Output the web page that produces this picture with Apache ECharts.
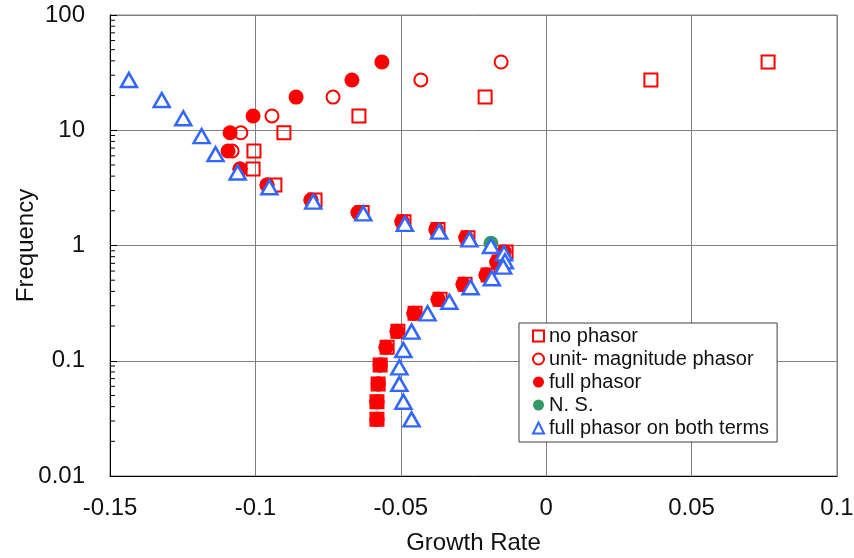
<!DOCTYPE html>
<html><head><meta charset="utf-8">
<script src="https://cdn.jsdelivr.net/npm/echarts@6/dist/echarts.min.js"></script>
<style>html,body{margin:0;padding:0;background:#fff}#c{width:854px;height:558px}</style>
</head><body><div id="c"></div>
<script>
// Shared frequencies for the red series
const redFreq = [39.1, 27.3, 19.4, 13.3, 9.5, 6.6, 4.6, 3.35, 2.48, 1.93, 1.61, 1.38, 1.17, 0.88, 0.72, 0.555, 0.46, 0.341, 0.258, 0.18, 0.131, 0.092, 0.063, 0.044, 0.031];
const noPhasorRate = [0.0763, 0.036, -0.021, -0.0644, -0.0902, -0.1005, -0.1008, -0.0933, -0.0795, -0.0633, -0.0489, -0.0372, -0.0269, -0.0138, -0.0162, -0.0200, -0.0279, -0.0365, -0.0451, -0.0510, -0.0547, -0.0571, -0.0578, -0.0582, -0.0582];
const unitMagRate = [-0.0155, -0.0431, -0.0733, -0.0943, -0.1050, -0.1080, -0.1053, -0.0960, -0.0809, -0.0647, -0.0496, -0.0379, -0.0276, -0.0145, -0.0170, -0.0207, -0.0286, -0.0372, -0.0455, -0.0513, -0.0551, -0.0571, -0.0578, -0.0582, -0.0582];
const fullPhasorRate = [-0.0565, -0.0668, -0.0860, -0.1008, -0.1087, -0.1094, -0.1053, -0.0960, -0.0809, -0.0647, -0.0496, -0.0379, -0.0276, -0.0145, -0.0170, -0.0207, -0.0286, -0.0372, -0.0455, -0.0513, -0.0551, -0.0571, -0.0578, -0.0582, -0.0582];
const nsRate = [-0.019];
const nsFreq = [1.045];
const bothRate = [-0.1435, -0.1322, -0.1248, -0.1185, -0.1137, -0.1061, -0.0952, -0.0801, -0.0629, -0.0486, -0.0368, -0.0264, -0.0190, -0.0145, -0.0142, -0.0148, -0.0187, -0.0260, -0.0333, -0.0408, -0.0463, -0.0491, -0.0505, -0.0505, -0.0491, -0.0463];
const bothFreq = [27.3, 18.3, 12.7, 8.9, 6.2, 4.3, 3.2, 2.4, 1.9, 1.54, 1.32, 1.13, 0.99, 0.855, 0.73, 0.655, 0.52, 0.434, 0.325, 0.258, 0.179, 0.124, 0.0877, 0.0629, 0.0441, 0.031];
const seriesNames = ['no phasor', 'unit- magnitude phasor', 'full phasor', 'N. S.', 'full phasor on both terms'];
const xLabel = 'Growth Rate';
const yLabel = 'Frequency';

const zip = (xs, ys) => xs.map((x, i) => [x, ys[i]]);
const FONT = 'Liberation Sans, Arial, sans-serif';
const RED = '#ff0000', BLUE = '#3366ff', GREEN = '#339966';

// minor log tick positions (2..9 per decade)
const minorTicks = [];
for (let k = -2; k <= 1; k++) for (let m = 2; m <= 9; m++) minorTicks.push([-0.15, m * Math.pow(10, k)]);

const chart = echarts.init(document.getElementById('c'), null, {renderer: 'canvas'});
chart.setOption({
  animation: false,
  backgroundColor: '#fff',
  textStyle: {fontFamily: FONT},
  grid: {left: 110, right: 17, top: 15, bottom: 82, show: true, borderColor: '#808080', borderWidth: 1,
    containLabel: false, outerBoundsMode: 'none'},
  xAxis: {
    type: 'value', min: -0.15, max: 0.1, interval: 0.05,
    name: xLabel, nameLocation: 'middle', nameGap: 55, nameMoveOverlap: false,
    nameTextStyle: {fontSize: 24, color: '#111', fontFamily: FONT},
    axisLine: {show: true, onZero: false, lineStyle: {color: '#000', width: 1}},
    axisTick: {show: false},
    axisLabel: {fontSize: 24, color: '#111', margin: 20, fontFamily: FONT, hideOverlap: false,
      formatter: v => String(Math.round(v * 100) / 100)},
    splitLine: {show: true, lineStyle: {color: '#808080', width: 1}}
  },
  yAxis: {
    type: 'log', logBase: 10, min: 0.01, max: 100,
    name: yLabel, nameLocation: 'middle', nameGap: 72, nameRotate: 90, nameMoveOverlap: false,
    nameTextStyle: {fontSize: 24, color: '#111', fontFamily: FONT},
    axisLine: {show: true, onZero: false, lineStyle: {color: '#000', width: 1}},
    axisTick: {show: true, inside: true, length: 7, lineStyle: {color: '#000'}},
    axisLabel: {fontSize: 24, color: '#111', margin: 25, fontFamily: FONT,
      formatter: v => String(parseFloat(Number(v).toPrecision(6)))},
    splitLine: {show: true, lineStyle: {color: '#808080', width: 1}}
  },
  legend: {
    data: seriesNames,
    orient: 'vertical', left: 519, top: 323,
    backgroundColor: '#fff', borderColor: '#404040', borderWidth: 1,
    padding: [3, 8, 4, 13], itemGap: 3, itemWidth: 11, itemHeight: 11,
    textStyle: {fontSize: 20, lineHeight: 18, color: '#111', fontFamily: FONT}
  },
  series: [
    {type: 'custom', name: 'minor', silent: true, z: 1,
      data: minorTicks,
      renderItem: (params, api) => {
        const p = api.coord([api.value(0), api.value(1)]);
        return {type: 'line', shape: {x1: p[0], y1: p[1], x2: p[0] + 5, y2: p[1]},
          style: {stroke: '#000', lineWidth: 1}};
      }},
    {type: 'scatter', name: seriesNames[0], data: zip(noPhasorRate, redFreq), symbol: 'rect', symbolSize: 13, z: 2,
      itemStyle: {color: 'rgba(0,0,0,0)', borderColor: RED, borderWidth: 2, opacity: 1}},
    {type: 'scatter', name: seriesNames[1], data: zip(unitMagRate, redFreq), symbol: 'circle', symbolSize: 13, z: 2,
      itemStyle: {color: 'rgba(0,0,0,0)', borderColor: RED, borderWidth: 2, opacity: 1}},
    {type: 'scatter', name: seriesNames[2], data: zip(fullPhasorRate, redFreq), symbol: 'circle', symbolSize: 15, z: 2,
      itemStyle: {color: RED, borderWidth: 0, opacity: 1}},
    {type: 'scatter', name: seriesNames[3], data: zip(nsRate, nsFreq), symbol: 'circle', symbolSize: 15, z: 2,
      itemStyle: {color: GREEN, borderWidth: 0, opacity: 1}},
    {type: 'scatter', name: seriesNames[4], data: zip(bothRate, bothFreq), symbol: 'triangle', symbolSize: [16, 14], z: 2,
      itemStyle: {color: '#fff', borderColor: BLUE, borderWidth: 2.5, opacity: 1}}
  ]
});
</script>
</body></html>
